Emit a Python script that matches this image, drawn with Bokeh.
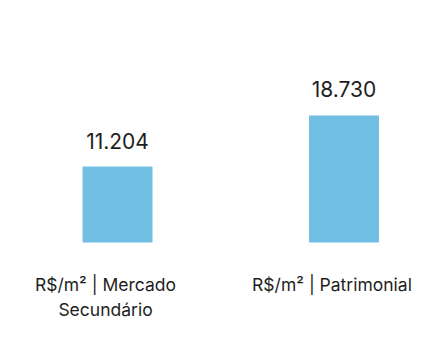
from bokeh.plotting import figure
from bokeh.models import ColumnDataSource, Range1d
from bokeh.core.properties import value
from bokeh.embed import file_html
from bokeh.resources import INLINE

categories = ["R$/m² | Mercado\nSecundário", "R$/m² | Patrimonial"]
values = [11204, 18730]
value_labels = ["11.204", "18.730"]

positions = list(range(len(categories)))
source = ColumnDataSource(dict(x=positions, top=values, cat=categories, lab=value_labels,
                               zero=[0] * len(values)))

p = figure(width=444, height=355, output_backend="svg", toolbar_location=None,
           x_range=Range1d(-0.5166, 1.4437), y_range=Range1d(-16665, 35690),
           min_border=0, min_border_left=0, min_border_right=0,
           min_border_top=0, min_border_bottom=0)
p.axis.visible = False
p.grid.visible = False
p.outline_line_color = None
p.background_fill_color = "white"
p.border_fill_color = "white"

p.vbar(x="x", top="top", bottom=0, width=0.309, source=source,
       fill_color="#71C0E4", line_color=None)

p.text(x="x", y="top", text="lab", source=source, text_align="center",
       text_baseline="alphabetic", y_offset=-26, text_font=value("Inter"),
       text_font_size="21px", text_color="#1e1e1e")

p.text(x="x", y="zero", text="cat", source=source, text_align="center",
       text_baseline="top", y_offset=31, x_offset=-12, text_font=value("Inter"),
       text_font_size="17.5px", text_color="#1e1e1e", text_line_height=1.2)

open("out.html", "w").write(file_html(p, INLINE))
